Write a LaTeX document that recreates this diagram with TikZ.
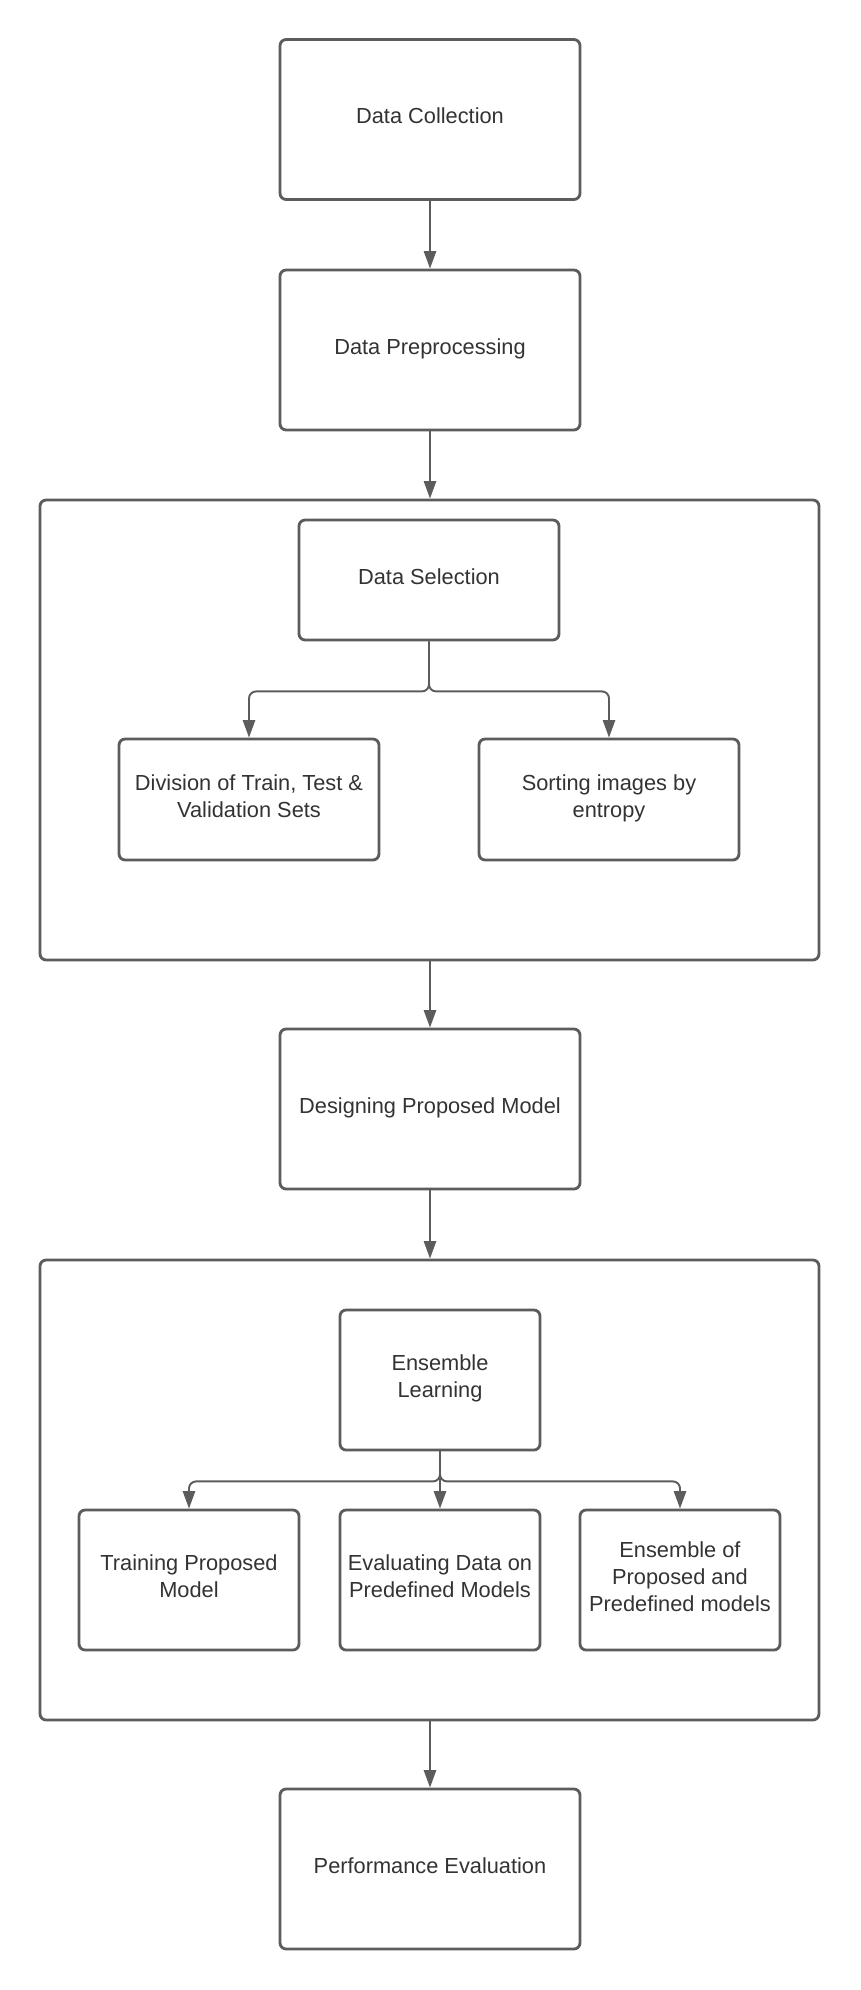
\documentclass[tikz,border=0pt]{standalone}
\usepackage{fontspec}
\setmainfont{Liberation Sans}
\usetikzlibrary{arrows.meta}
\definecolor{linegray}{HTML}{5C5C5C}
\definecolor{textgray}{HTML}{333333}
\tikzset{
    procbox/.style={draw=linegray, line width=1.6pt, rounded corners=3.5pt, fill=white,
        align=center, inner sep=0pt, text=textgray, text depth=4pt,
        font=\fontsize{12.4}{15.3}\selectfont},
    groupbox/.style={draw=linegray, line width=1.6pt, rounded corners=3.5pt,
        minimum width=15.58cm, minimum height=9.2cm},
    flowarrow/.style={draw=linegray, line width=1.1pt, -{Triangle[length=10pt,width=7pt]}},
}
\begin{document}
\begin{tikzpicture}
    \useasboundingbox (0,0) rectangle (17.2,-39.8);

    % Top of the flow
    \node[procbox, minimum width=6cm, minimum height=3.2cm] (collect) at (8.6,-2.39) {Data Collection};
    \node[procbox, minimum width=6cm, minimum height=3.2cm] (prep) at (8.6,-7.0) {Data Preprocessing};

    % Data selection group
    \node[groupbox] (selgroup) at (8.59,-14.6) {};
    \node[procbox, minimum width=5.2cm, minimum height=2.4cm] (select) at (8.58,-11.6) {Data Selection};
    \node[procbox, minimum width=5.2cm, minimum height=2.42cm] (divide) at (4.98,-15.99) {Division of Train, Test \&\\Validation Sets};
    \node[procbox, minimum width=5.2cm, minimum height=2.42cm] (sorting) at (12.18,-15.99) {Sorting images by\\entropy};

    \node[procbox, minimum width=6cm, minimum height=3.2cm] (design) at (8.6,-22.18) {Designing Proposed Model};

    % Ensemble group
    \node[groupbox] (ensgroup) at (8.59,-29.8) {};
    \node[procbox, minimum width=4cm, minimum height=2.8cm] (ensemble) at (8.8,-27.6) {Ensemble\\Learning};
    \node[procbox, minimum width=4.4cm, minimum height=2.8cm] (train) at (3.78,-31.6) {Training Proposed\\Model};
    \node[procbox, minimum width=4cm, minimum height=2.8cm] (evaluate) at (8.8,-31.6) {Evaluating Data on\\Predefined Models};
    \node[procbox, minimum width=4cm, minimum height=2.8cm] (combine) at (13.6,-31.6) {Ensemble of\\Proposed and\\Predefined models};

    \node[procbox, minimum width=6cm, minimum height=3.2cm] (perf) at (8.6,-37.38) {Performance Evaluation};

    % Connectors
    \draw[flowarrow] (collect) -- (prep);
    \draw[flowarrow] (prep) -- (prep |- selgroup.north);
    \draw[flowarrow, rounded corners=4pt] (select.south) -- ++(0,-1) -| (divide.north);
    \draw[flowarrow, rounded corners=4pt] (select.south) -- ++(0,-1) -| (sorting.north);
    \draw[flowarrow] (design |- selgroup.south) -- (design);
    \draw[flowarrow] (design) -- (design |- ensgroup.north);
    \draw[flowarrow, rounded corners=4pt] (ensemble.south) -- ++(0,-0.6) -| (train.north);
    \draw[flowarrow] (ensemble) -- (evaluate);
    \draw[flowarrow, rounded corners=4pt] (ensemble.south) -- ++(0,-0.6) -| (combine.north);
    \draw[flowarrow] (perf |- ensgroup.south) -- (perf);
\end{tikzpicture}
\end{document}
